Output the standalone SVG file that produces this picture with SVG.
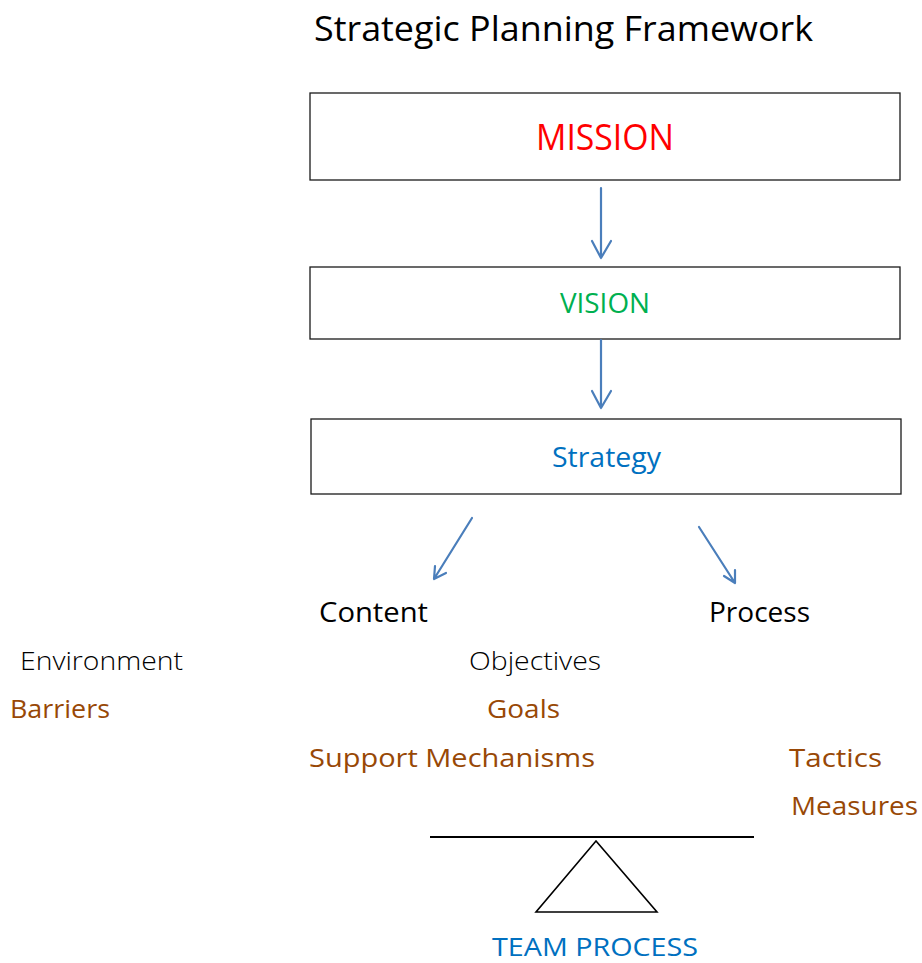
<svg xmlns="http://www.w3.org/2000/svg" width="922" height="963" viewBox="0 0 922 963">
<style>
.t{font-family:"Open Sans","Noto Sans","DejaVu Sans",sans-serif}
.box{fill:#fff;stroke:#1a1a1a;stroke-width:1.3}
.arr{fill:none;stroke:#4A7EBB;stroke-width:2.2;stroke-linecap:round;stroke-linejoin:round}
.br{fill:#984806}
.lt{font-weight:300}
</style>
<rect width="922" height="963" fill="#fff"/>
<text id="title" class="t" x="314" y="41" font-size="35" textLength="499" lengthAdjust="spacingAndGlyphs" fill="#000">Strategic Planning Framework</text>
<g id="mission">
<rect class="box" x="310" y="93" width="590" height="87"/>
<text class="t" x="536" y="150" font-size="36" textLength="138" lengthAdjust="spacingAndGlyphs" fill="#FF0000">MISSION</text>
</g>
<g id="vision">
<rect class="box" x="310" y="267" width="590" height="72"/>
<text class="t" x="560" y="313" font-size="28" textLength="90" lengthAdjust="spacingAndGlyphs" fill="#00B050">VISION</text>
</g>
<g id="strategy">
<rect class="box" x="311" y="419" width="590" height="75"/>
<text class="t" x="552" y="467" font-size="28" textLength="109" lengthAdjust="spacingAndGlyphs" fill="#0070C0">Strategy</text>
</g>
<g id="connectors">
<path class="arr" d="M601 188V258M592 241L601 258L611 241"/>
<path class="arr" d="M601 340V408M592 391L601 408L611 391"/>
<path class="arr" d="M472 518L434 579M435 566L434 579L446 573"/>
<path class="arr" d="M699 527L735 583M724 576L735 583L735 570"/>
</g>
<g id="content"><text class="t" x="319" y="622" font-size="27" textLength="109" lengthAdjust="spacingAndGlyphs" fill="#000">Content</text></g>
<g id="process"><text class="t" x="709" y="622" font-size="27" textLength="101" lengthAdjust="spacingAndGlyphs" fill="#000">Process</text></g>
<g id="environment"><text class="t lt" x="20" y="670" font-size="26" textLength="163" lengthAdjust="spacingAndGlyphs" fill="#000">Environment</text></g>
<g id="objectives"><text class="t lt" x="469" y="670" font-size="26" textLength="132" lengthAdjust="spacingAndGlyphs" fill="#000">Objectives</text></g>
<g id="barriers"><text class="t br" x="10" y="718" font-size="26" textLength="100" lengthAdjust="spacingAndGlyphs">Barriers</text></g>
<g id="goals"><text class="t br" x="487" y="718" font-size="26" textLength="73" lengthAdjust="spacingAndGlyphs">Goals</text></g>
<g id="support"><text class="t br" x="309" y="767" font-size="26" textLength="286" lengthAdjust="spacingAndGlyphs">Support Mechanisms</text></g>
<g id="tactics"><text class="t br" x="789" y="767" font-size="26" textLength="93" lengthAdjust="spacingAndGlyphs">Tactics</text></g>
<g id="measures"><text class="t br" x="791" y="815" font-size="26" textLength="127" lengthAdjust="spacingAndGlyphs">Measures</text></g>
<g id="balance">
<line x1="430" y1="837" x2="754" y2="837" stroke="#000" stroke-width="2"/>
<polygon points="596,841 536,912 657,912" fill="none" stroke="#000" stroke-width="1.6"/>
</g>
<g id="team"><text class="t" x="492" y="956" font-size="25" textLength="206" lengthAdjust="spacingAndGlyphs" fill="#0070C0">TEAM PROCESS</text></g>
</svg>
